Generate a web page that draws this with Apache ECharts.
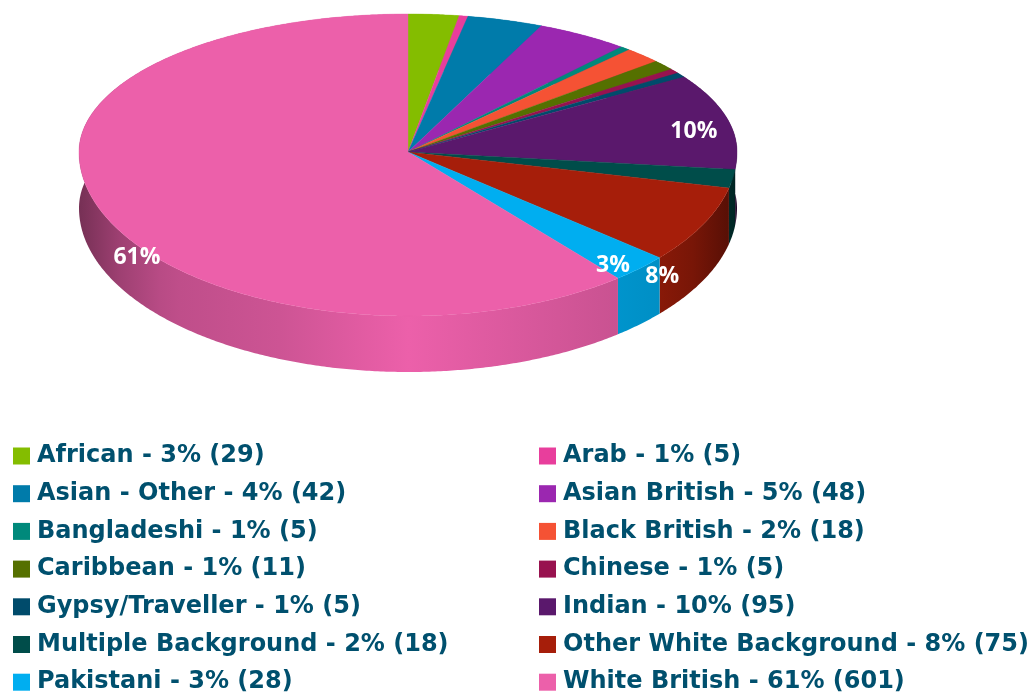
<!DOCTYPE html>
<html>
<head>
<meta charset="utf-8">
<style>
  html, body { margin: 0; padding: 0; background: #fff; }
  #chart { width: 1035px; height: 695px; }
</style>
<script src="https://cdn.jsdelivr.net/npm/echarts@6/dist/echarts.min.js"></script>
</head>
<body>
<div id="chart"></div>
<script>
const categories = [
  "African", "Arab", "Asian - Other", "Asian British", "Bangladeshi", "Black British", "Caribbean",
  "Chinese", "Gypsy/Traveller", "Indian", "Multiple Background", "Other White Background", "Pakistani", "White British",
];
const counts = [29, 5, 42, 48, 5, 18, 11, 5, 5, 95, 18, 75, 28, 601];
const percents = [3, 1, 4, 5, 1, 2, 1, 1, 1, 10, 2, 8, 3, 61];
const colors = [
  "#84bd00", "#e83e9c", "#007baa", "#9b27b0", "#00897b", "#f55234", "#557000",
  "#98124f", "#004b6b", "#5a186c", "#004d4a", "#a61e0a", "#00aef0", "#ec60aa",
];

// pie geometry: the back half of the disc is flatter than the front half
const centerX = 408;
const centerY = 152;
const radiusX = 329;
const radiusBack = 138;
const radiusFront = 164;
const wallDepth = 56;

// only the big slices carry a label: [angle on the disc, radial distance]
const labelSpots = {
  "Indian": [80.1, 0.882],
  "Other White Background": [134.6, 1.085],
  "Pakistani": [137.9, 0.929],
  "White British": [231.9, 1.047],
};

// wall shading across the disc width: [offset, brightness]
const wallShade = [
  [0, 0.5], [0.062, 0.67], [0.123, 0.78], [0.153, 0.81], [0.305, 0.87], [0.44, 0.96],
  [0.5, 1], [0.818, 0.85], [0.883, 0.82], [0.933, 0.72], [0.974, 0.58], [0.995, 0.5], [1, 0.35],
];

const total = counts.reduce((sum, value) => sum + value, 0);

const project = (angleDeg, radial, depth) => {
  const angle = (angleDeg * Math.PI) / 180;
  const u = radial * Math.sin(angle);
  const v = -radial * Math.cos(angle);
  return [centerX + radiusX * u, centerY + (v < 0 ? radiusBack : radiusFront) * v + (depth ? wallDepth : 0)];
};

// slice edges in the back half keep the ray direction of the front half
const discAngle = (angleDeg) => {
  const angle = (angleDeg * Math.PI) / 180;
  const cosine = Math.cos(angle);
  const squash = cosine > 0 ? radiusBack / radiusFront : 1;
  return (Math.atan2(squash * Math.sin(angle), cosine) * 180) / Math.PI;
};

const arcPoints = (startDeg, endDeg, depth) => {
  const steps = Math.max(2, Math.ceil((endDeg - startDeg) * 2));
  const points = [];
  for (let i = 0; i <= steps; i += 1) {
    points.push(project(discAngle(startDeg + ((endDeg - startDeg) * i) / steps), 1, depth));
  }
  return points;
};

const shadeColor = (hex, factor) => {
  const channels = [1, 3, 5].map((i) => Math.round(parseInt(hex.slice(i, i + 2), 16) * factor));
  return `rgb(${channels.join(",")})`;
};

const wallFill = (hex) => ({
  type: "linear",
  x: centerX - radiusX,
  y: 0,
  x2: centerX + radiusX,
  y2: 0,
  global: true,
  colorStops: wallShade.map(([offset, factor]) => ({ offset, color: shadeColor(hex, factor) })),
});

const sliceStarts = counts.map((_, index) =>
  (counts.slice(0, index).reduce((sum, value) => sum + value, 0) / total) * 360
);

const renderSlice = (index) => () => {
  const startDeg = sliceStarts[index];
  const endDeg = startDeg + (counts[index] / total) * 360;
  const color = colors[index];
  const topArc = arcPoints(startDeg, endDeg, false);
  const bottomArc = arcPoints(startDeg, endDeg, true).reverse();
  const children = [
    {
      type: "polygon",
      z2: 1,
      shape: { points: [...topArc, ...bottomArc] },
      style: { fill: wallFill(color) },
    },
    {
      type: "polygon",
      z2: 2,
      shape: { points: [project(0, 0, false), ...topArc] },
      style: { fill: color, stroke: color, lineWidth: 0.4 },
    },
  ];
  const spot = labelSpots[categories[index]];
  if (spot) {
    const [labelX, labelY] = project(spot[0], spot[1], false);
    children.push({
      type: "text",
      z2: 3,
      x: labelX,
      y: labelY,
      style: {
        text: `${percents[index]}%`,
        fill: "#fff",
        font: '700 23px "Open Sans"',
        align: "center",
        verticalAlign: "middle",
      },
    });
  }
  return { type: "group", children };
};

const legendLabel = (name) => {
  const index = categories.indexOf(name);
  return `${name} - ${percents[index]}% (${counts[index]})`;
};

const legendColumn = (left, remainder) => ({
  orient: "vertical",
  left,
  top: 442,
  height: 320,
  padding: 0,
  itemWidth: 17,
  itemHeight: 17,
  itemGap: 9.7,
  icon: "rect",
  selectedMode: false,
  formatter: legendLabel,
  data: categories.filter((_, index) => index % 2 === remainder),
  textStyle: {
    color: "#00506e",
    fontFamily: "DejaVu Sans",
    fontWeight: "bold",
    fontSize: 24,
    lineHeight: 28,
    padding: [0, 0, 0, 2],
  },
});

const chart = echarts.init(document.getElementById("chart"));
chart.setOption({
  animation: false,
  backgroundColor: "#fff",
  color: colors,
  legend: [legendColumn(13, 0), legendColumn(539, 1)],
  series: categories.map((name, index) => ({
    name,
    type: "custom",
    coordinateSystem: "none",
    silent: true,
    data: [counts[index]],
    renderItem: renderSlice(index),
  })),
});
</script>
</body>
</html>
